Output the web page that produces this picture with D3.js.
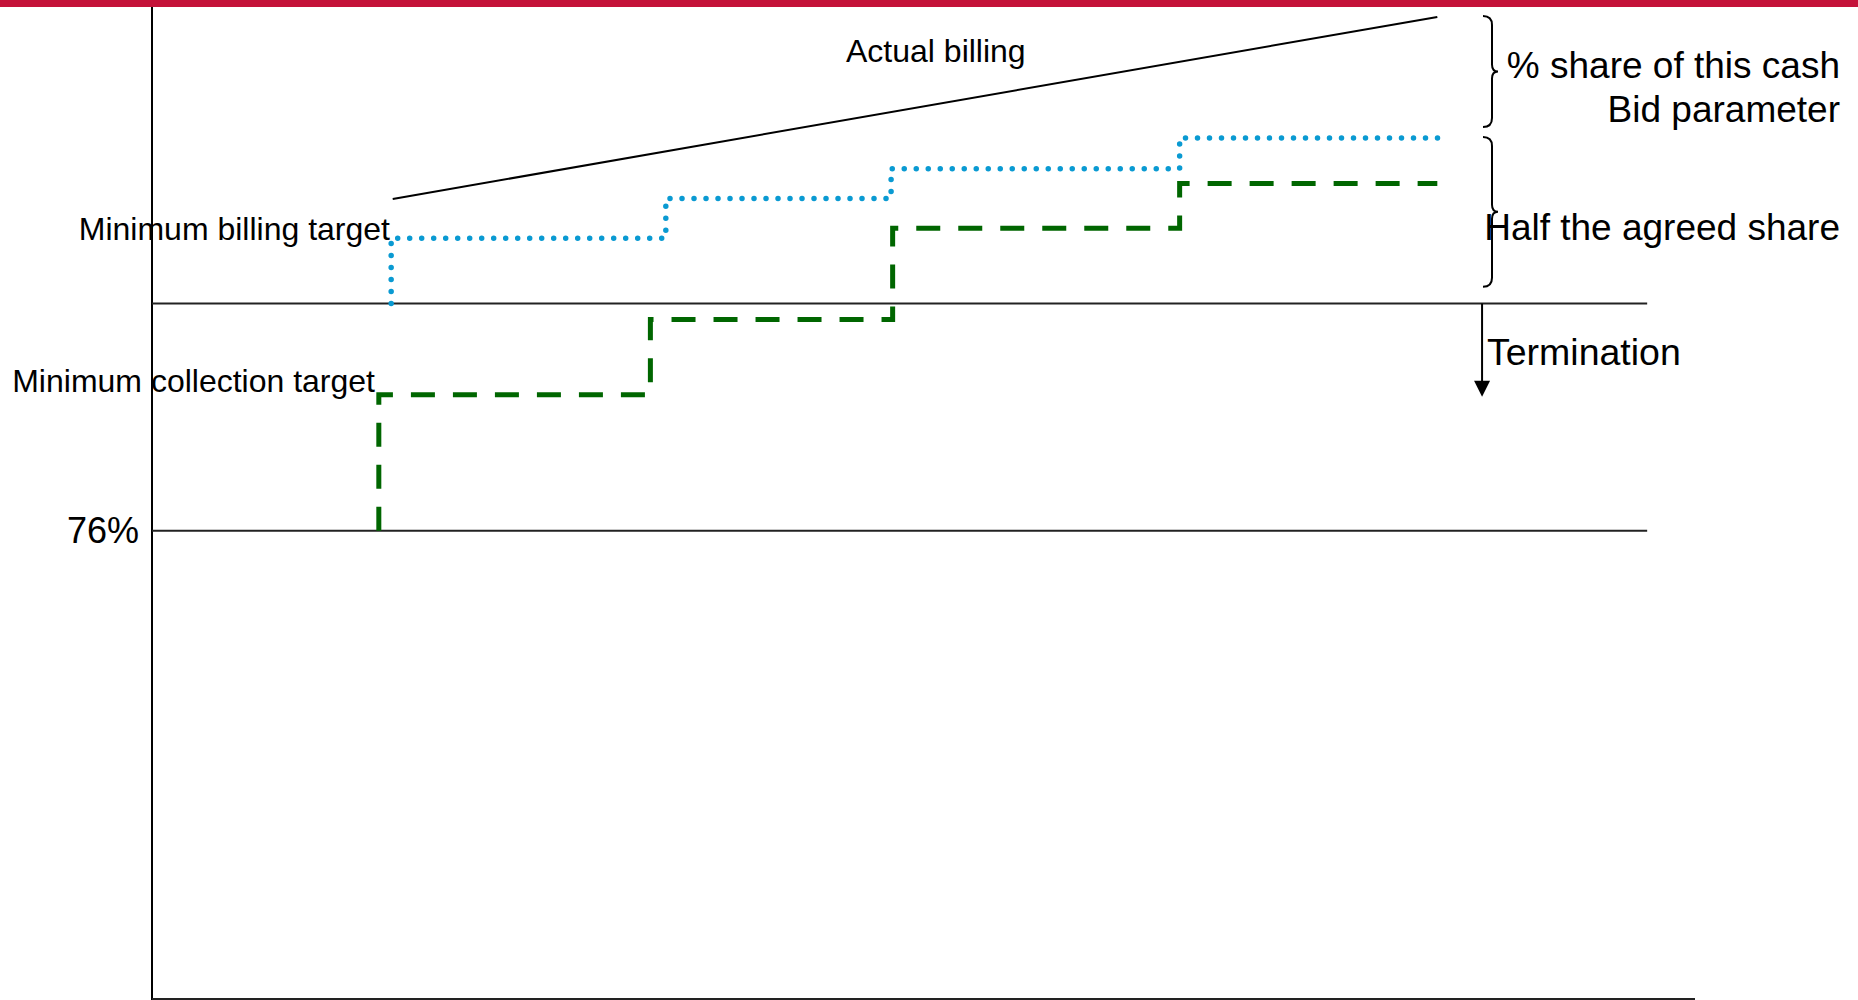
<!DOCTYPE html>
<html>
<head>
<meta charset="utf-8">
<script src="https://cdn.jsdelivr.net/npm/d3@7"></script>
<style>
  html, body { margin: 0; padding: 0; background: #fff; }
  svg text { font-family: "Liberation Sans", Arial, sans-serif; fill: #000; }
</style>
</head>
<body>
<div id="chart"></div>
<script>
// Values in abstract chart units (0-100 on both axes)
const floorLevel = 47.2;        // the "76%" line
const terminationLevel = 70.1;  // termination threshold line

const billingStepX = [15.5, 33.3, 47.9, 66.6];
const billingLevels = [76.7, 80.7, 83.7, 86.8];
const billingEndX = 83.4;

const collectionStepX = [14.7, 32.3, 48.0, 66.6];
const collectionLevels = [60.9, 68.5, 77.7, 82.2];
const collectionEndX = 83.3;

const actualX = [15.6, 83.3];
const actualY = [80.65, 99.0];

const refLineEndX = 96.9;
const braceSpans = [[87.9, 99.1], [71.8, 86.9]];
const arrowEndY = 60.7;
const arrowX = 86.2;

function drawChart() {
    var width = 1858, height = 1000;

    var svg = d3.select("#chart")
        .append("svg")
        .attr("width", width)
        .attr("height", height);

    var x = d3.scaleLinear().domain([0, 100]).range([152, 1695]);
    var y = d3.scaleLinear().domain([0, 100]).range([999, 7]);

    // red band at the top
    svg.append("rect")
        .attr("x", 0).attr("y", 0)
        .attr("width", width).attr("height", 7)
        .attr("fill", "#C41239");

    // texts first so lines sit on top like the original
    svg.append("text").attr("x", 390).attr("y", 240)
        .attr("text-anchor", "end").style("font-size", "32px")
        .text("Minimum billing target");
    svg.append("text").attr("x", 375).attr("y", 392)
        .attr("text-anchor", "end").style("font-size", "32px")
        .text("Minimum collection target");
    svg.append("text").attr("x", 139).attr("y", 543)
        .attr("text-anchor", "end").style("font-size", "36px")
        .text("76%");
    svg.append("text").attr("x", 846).attr("y", 62)
        .style("font-size", "32px")
        .text("Actual billing");
    svg.append("text").attr("x", 1840).attr("y", 78)
        .attr("text-anchor", "end").style("font-size", "37px")
        .text("% share of this cash");
    svg.append("text").attr("x", 1840).attr("y", 122)
        .attr("text-anchor", "end").style("font-size", "37px")
        .text("Bid parameter");
    svg.append("text").attr("x", 1840).attr("y", 240)
        .attr("text-anchor", "end").style("font-size", "37px")
        .text("Half the agreed share");
    svg.append("text").attr("x", 1487).attr("y", 365)
        .style("font-size", "37.5px")
        .text("Termination");

    // axis frame
    svg.append("line")
        .attr("x1", x(0)).attr("x2", x(0))
        .attr("y1", 7).attr("y2", height)
        .attr("stroke", "#000").attr("stroke-width", 2);
    svg.append("line")
        .attr("x1", x(0)).attr("x2", x(100))
        .attr("y1", y(0)).attr("y2", y(0))
        .attr("stroke", "#222").attr("stroke-width", 2);

    // reference lines
    [floorLevel, terminationLevel].forEach(function(v) {
        svg.append("line")
            .attr("x1", x(0)).attr("x2", x(refLineEndX))
            .attr("y1", y(v)).attr("y2", y(v))
            .attr("stroke", "#222").attr("stroke-width", 2);
    });

    var step = d3.line()
        .x(d => x(d[0]))
        .y(d => y(d[1]))
        .curve(d3.curveStepAfter);

    // minimum billing target (blue dotted)
    var billingPts = [[billingStepX[0], terminationLevel]]
        .concat(billingStepX.map((v, i) => [v, billingLevels[i]]))
        .concat([[billingEndX, billingLevels[billingLevels.length - 1]]]);
    svg.append("path")
        .attr("d", step(billingPts))
        .attr("fill", "none")
        .attr("stroke", "#0A9AD2")
        .attr("stroke-width", 5.5)
        .attr("stroke-linecap", "round")
        .attr("stroke-dasharray", "0,12");

    // minimum collection target (green dashed)
    var collectionPts = [[collectionStepX[0], floorLevel]]
        .concat(collectionStepX.map((v, i) => [v, collectionLevels[i]]))
        .concat([[collectionEndX, collectionLevels[collectionLevels.length - 1]]]);
    svg.append("path")
        .attr("d", step(collectionPts))
        .attr("fill", "none")
        .attr("stroke", "#006600")
        .attr("stroke-width", 5)
        .attr("stroke-dasharray", "24,18");

    // actual billing
    svg.append("path")
        .attr("d", d3.line().x(d => x(d[0])).y(d => y(d[1]))(actualX.map((v, i) => [v, actualY[i]])))
        .attr("fill", "none")
        .attr("stroke", "#000")
        .attr("stroke-width", 2);

    // curly braces
    var bx = 1492;
    braceSpans.forEach(function(s) {
        var y0 = y(s[1]), y1 = y(s[0]), ym = (y0 + y1) / 2;
        var p = d3.path();
        p.moveTo(bx - 9, y0);
        p.quadraticCurveTo(bx, y0, bx, y0 + 9);
        p.lineTo(bx, ym - 7);
        p.quadraticCurveTo(bx, ym, bx + 6, ym);
        p.quadraticCurveTo(bx, ym, bx, ym + 7);
        p.lineTo(bx, y1 - 9);
        p.quadraticCurveTo(bx, y1, bx - 9, y1);
        svg.append("path")
            .attr("d", p.toString())
            .attr("fill", "none")
            .attr("stroke", "#000")
            .attr("stroke-width", 2);
    });

    // termination arrow
    var ax = x(arrowX), tip = y(arrowEndY);
    svg.append("line")
        .attr("x1", ax).attr("x2", ax)
        .attr("y1", y(terminationLevel)).attr("y2", tip - 12)
        .attr("stroke", "#000").attr("stroke-width", 2);
    svg.append("path")
        .attr("d", `M${ax - 8},${tip - 16}L${ax + 8},${tip - 16}L${ax},${tip}Z`)
        .attr("fill", "#000");
}

drawChart();
</script>
</body>
</html>
